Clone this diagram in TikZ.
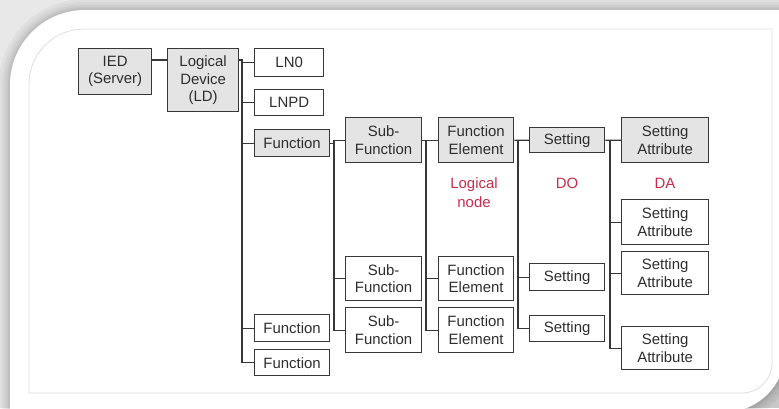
\documentclass[tikz,border=0pt]{standalone}
\usepackage{fontspec}
\setmainfont{Liberation Sans}
\definecolor{bggray}{RGB}{232,232,232}
\definecolor{cornergray}{RGB}{200,200,200}
\definecolor{bordergray}{RGB}{222,222,222}
\definecolor{boxline}{RGB}{55,55,55}
\definecolor{boxfill}{RGB}{228,228,228}
\definecolor{txt}{RGB}{45,45,45}
\definecolor{lblred}{RGB}{200,45,75}
\begin{document}
\begin{tikzpicture}[x=1bp,y=-1bp,
  box/.style={draw=boxline, line width=1.3bp, text=txt, font=\fontsize{15}{17.5}\selectfont,
    align=center, inner sep=0pt, anchor=north west},
  gbox/.style={box, fill=boxfill},
  wbox/.style={box, fill=white},
  conn/.style={draw=boxline, line width=1.3bp},
  lbl/.style={text=lblred, font=\fontsize{15}{18.5}\selectfont, align=center, inner sep=0pt}]
\useasboundingbox (0,0) rectangle (779,408);
\fill[bggray] (0,0) rectangle (779,408);
\fill[cornergray] (720,350) rectangle (779,408);
\def\shapepath{(10,412) -- (10,85) .. controls (10,43.6) and (43.6,10) .. (85,10)
  -- (785,10) -- (785,352) .. controls (785,385.1) and (758.1,412) .. (725,412) -- cycle}
\foreach \w in {22,16,11,7,4} \draw[black, opacity=0.035, line width=\w bp] \shapepath;
\fill[white] \shapepath;
\draw[bordergray, line width=0.8bp] (29,393) -- (29,84) .. controls (29,53.6) and (53.6,29) .. (84,29)
  -- (772,29) -- (772,363) .. controls (772,379.6) and (758.6,393) .. (742,393) -- cycle;

% boxes
\node[gbox, minimum width=73bp, minimum height=46bp] (IED) at (78,48) {IED\\(Server)};
\node[gbox, minimum width=71bp, minimum height=63bp] (LD) at (167,48) {Logical\\Device\\(LD)};
\node[wbox, minimum width=69bp, minimum height=28bp] (LN0) at (254,48) {LN0};
\node[wbox, minimum width=69bp, minimum height=26bp] (LNPD) at (254,89) {LNPD};
\node[gbox, minimum width=75bp, minimum height=27bp] (F1) at (254,129) {Function};
\node[wbox, minimum width=75bp, minimum height=27bp] (F2) at (254,314) {Function};
\node[wbox, minimum width=75bp, minimum height=26bp] (F3) at (254,349) {Function};

\node[gbox, minimum width=76bp, minimum height=45bp] (SF1) at (345,117) {Sub-\\Function};
\node[wbox, minimum width=76bp, minimum height=44bp] (SF2) at (345,256) {Sub-\\Function};
\node[wbox, minimum width=76bp, minimum height=45bp] (SF3) at (345,307) {Sub-\\Function};

\node[gbox, minimum width=75bp, minimum height=45bp] (FE1) at (438,117) {Function\\Element};
\node[wbox, minimum width=75bp, minimum height=44bp] (FE2) at (438,256) {Function\\Element};
\node[wbox, minimum width=75bp, minimum height=45bp] (FE3) at (438,307) {Function\\Element};

\node[gbox, minimum width=75bp, minimum height=25bp] (S1) at (529,127) {Setting};
\node[wbox, minimum width=75bp, minimum height=27bp] (S2) at (529,263) {Setting};
\node[wbox, minimum width=75bp, minimum height=26bp] (S3) at (529,315) {Setting};

\node[gbox, minimum width=87bp, minimum height=45bp] (SA1) at (621,117) {Setting\\Attribute};
\node[wbox, minimum width=87bp, minimum height=45bp] (SA2) at (621,199) {Setting\\Attribute};
\node[wbox, minimum width=87bp, minimum height=43bp] (SA3) at (621,251) {Setting\\Attribute};
\node[wbox, minimum width=87bp, minimum height=43bp] (SA4) at (621,326) {Setting\\Attribute};

% labels
\node[lbl] (LNlbl) at (474,192.5) {Logical\\node};
\node[lbl] (DOlbl) at (567,183) {DO};
\node[lbl] (DAlbl) at (665,183) {DA};

% connectors
\coordinate (tA) at (242,60);
\draw[conn] (IED.east |- tA) -- (LD.west |- tA);
\draw[conn] (LD.east |- tA) -- (tA) |- (F3.west);
\foreach \n in {LN0,LNPD,F1,F2} \draw[conn] (tA |- \n.west) -- (\n.west);

\coordinate (tB) at (334,0);
\draw[conn] (F1.east) -- (tB |- F1.east);
\draw[conn] (tB |- SF1.west) |- (SF3.west);
\foreach \n in {SF1,SF2} \draw[conn] (tB |- \n.west) -- (\n.west);

\coordinate (tC) at (426,0);
\draw[conn] (SF1.east) -- (FE1.west);
\draw[conn] (tC |- SF1.east) |- (FE3.west);
\draw[conn] (tC |- FE2.west) -- (FE2.west);

\coordinate (tD) at (518,0);
\draw[conn] (FE1.east) -- (S1.west);
\draw[conn] (tD |- FE1.east) |- (S3.west);
\draw[conn] (tD |- S2.west) -- (S2.west);

\coordinate (tE) at (610,0);
\draw[conn] (S1.east) -- (SA1.west);
\draw[conn] (tE |- S1.east) |- (SA4.west);
\foreach \n in {SA2,SA3} \draw[conn] (tE |- \n.west) -- (\n.west);
\end{tikzpicture}
\end{document}
